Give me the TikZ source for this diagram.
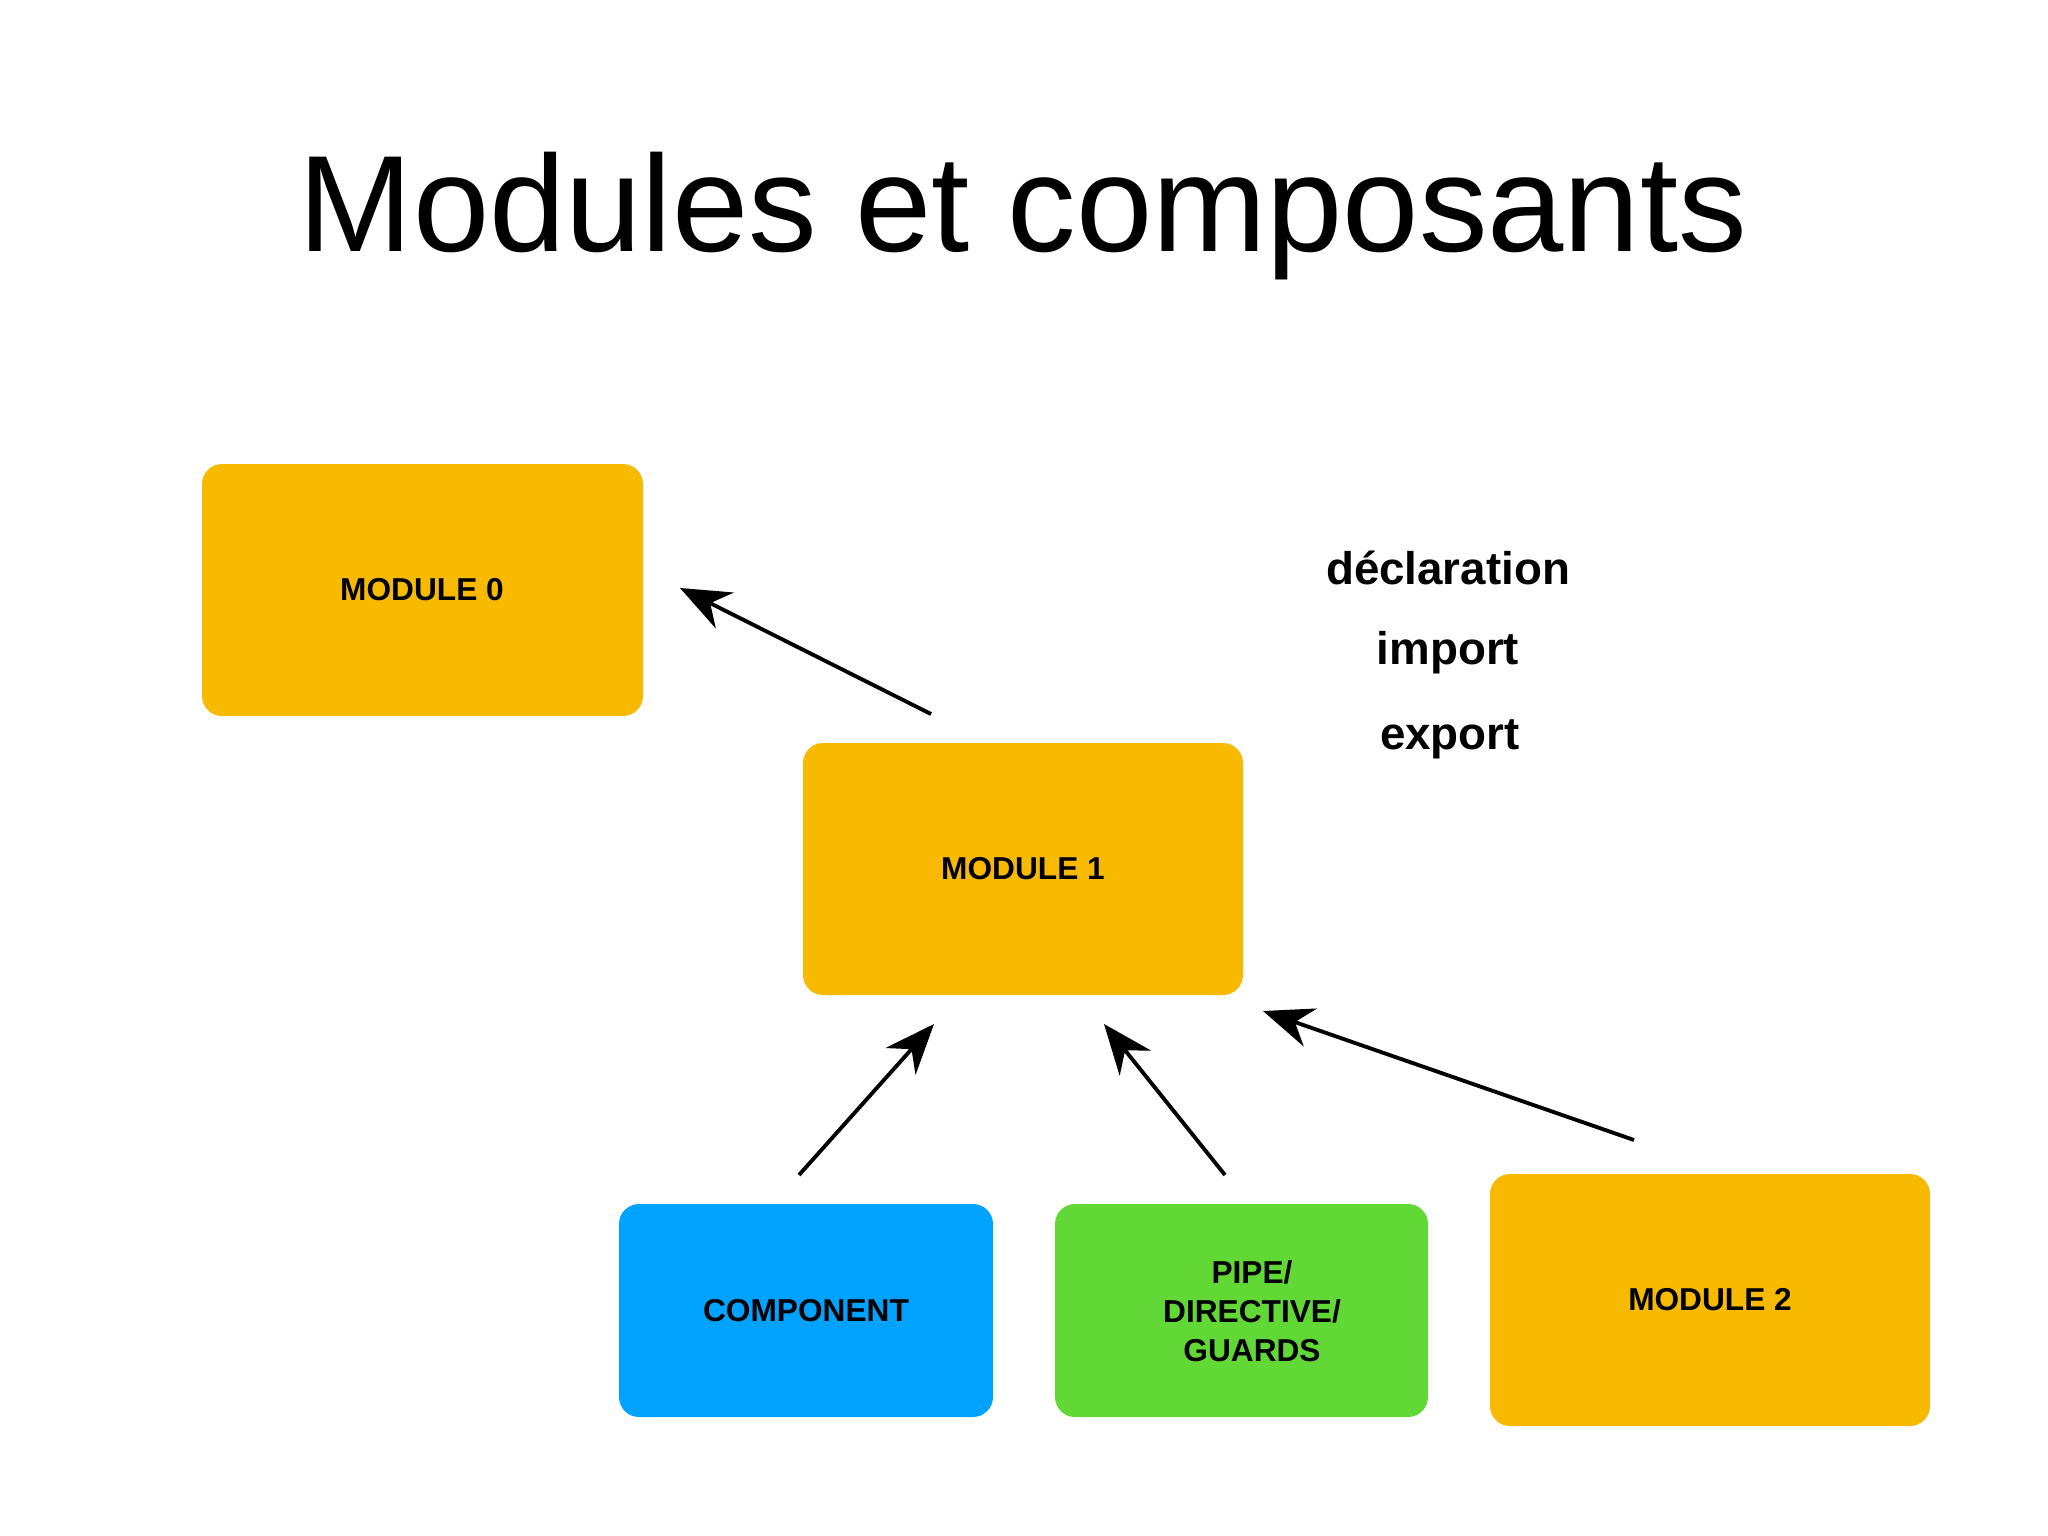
\documentclass[tikz,border=0pt]{standalone}
\usepackage{fontspec}
\setmainfont{Liberation Sans}
\usetikzlibrary{arrows.meta}
\definecolor{orng}{HTML}{F8BA00}
\definecolor{blu}{HTML}{00A2FF}
\definecolor{grn}{HTML}{61D836}
\begin{document}
\begin{tikzpicture}[x=0.01cm,y=-0.01cm,
  box/.style={rounded corners=20*0.01cm, font=\fontsize{9}{11}\selectfont\bfseries, align=center},
  side/.style={font=\fontsize{13}{15}\selectfont\bfseries},
  arr/.style={-{Stealth[length=5mm,width=4mm]}, line width=1.1pt}]
\useasboundingbox (0,0) rectangle (2048,1536);
\fill[white] (0,0) rectangle (2048,1536);
\node[font=\fontsize{39}{44}\selectfont] (title) at (1023,216) {Modules et composants};
\fill[orng, rounded corners=0.2cm] (202,464) rectangle (643,716);
\node[box] (m0) at (422,590) {MODULE 0};
\fill[orng, rounded corners=0.2cm] (803,743) rectangle (1243,995);
\node[box] (m1) at (1023,869) {MODULE 1};
\fill[blu, rounded corners=0.2cm] (619,1204) rectangle (993,1417);
\node[box] (c) at (806,1311) {COMPONENT};
\fill[grn, rounded corners=0.2cm] (1055,1204) rectangle (1428,1417);
\node[box] (p) at (1252,1311) {PIPE/\\DIRECTIVE/\\GUARDS};
\fill[orng, rounded corners=0.2cm] (1490,1174) rectangle (1930,1426);
\node[box] (m2) at (1710,1300) {MODULE 2};
\node[side] (d) at (1448,568) {déclaration};
\node[side] (i) at (1448,653) {import};
\node[side] (e) at (1450,739) {export};
\coordinate (a1s) at (931,714); \coordinate (a1e) at (680,588);
\coordinate (a2s) at (799,1175); \coordinate (a2e) at (934,1024);
\coordinate (a3s) at (1225,1175); \coordinate (a3e) at (1104,1024);
\coordinate (a4s) at (1634,1140); \coordinate (a4e) at (1263,1011);
\draw[arr] (a1s) -- (a1e);
\draw[arr] (a2s) -- (a2e);
\draw[arr] (a3s) -- (a3e);
\draw[arr] (a4s) -- (a4e);
\end{tikzpicture}
\end{document}
